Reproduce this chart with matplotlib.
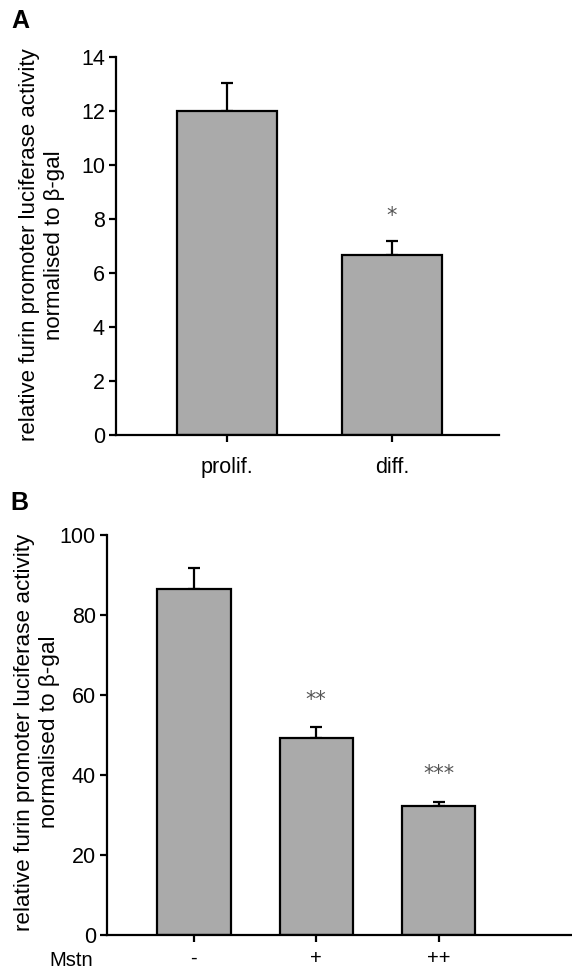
import matplotlib
matplotlib.use("Agg")
import matplotlib.pyplot as plt

plt.rcParams['font.family'] = ['Liberation Sans', 'DejaVu Sans']

# Panel A data
a_categories = ["prolif.", "diff."]
a_values = [12.0, 6.67]
a_errors = [1.05, 0.5]
a_sig = ["", "*"]
a_sig_y = [None, 8.1]
a_yticks = [0, 2, 4, 6, 8, 10, 12, 14]

# Panel B data
b_categories = ["-", "+", "++"]
b_values = [86.5, 49.3, 32.3]
b_errors = [5.3, 2.7, 1.0]
b_sig = ["", "**", "***"]
b_sig_y = [None, 58.7, 40.2]
b_yticks = [0, 20, 40, 60, 80, 100]

ylabel = "relative furin promoter luciferase activity\nnormalised to \u03b2-gal"

fig = plt.figure(figsize=(5.72, 9.72), dpi=100)

bar_color = "#aaaaaa"
lw = 1.6
fs_y = 15.5
fs_x = 15.5


def style(ax, xpad, xfs):
    for s in ["top", "right"]:
        ax.spines[s].set_visible(False)
    for s in ["left", "bottom"]:
        ax.spines[s].set_linewidth(lw)
    ax.tick_params(axis="y", length=5, width=lw, labelsize=fs_y, pad=3)
    ax.tick_params(axis="x", length=5, width=lw, labelsize=xfs, pad=xpad)


def px(x, y):
    return x / 572, 1 - y / 972


# Panel A
axA = fig.add_axes([116 / 572, 1 - 435 / 972, 383 / 572, 378 / 972])
xa = list(range(len(a_categories)))
axA.bar(xa, a_values, width=0.606, color=bar_color, edgecolor="black",
        linewidth=lw, zorder=2)
axA.errorbar(xa, a_values, yerr=[[0] * len(a_values), a_errors], fmt="none",
             ecolor="black", elinewidth=lw, capsize=4, capthick=lw, zorder=1)
for x, s, y in zip(xa, a_sig, a_sig_y):
    if s:
        axA.text(x, y, s, ha="center", va="center", fontsize=15, color="#555555",
                 family="DejaVu Sans")
axA.set_xlim(-0.673, 1.648)
axA.set_ylim(0, 14)
axA.set_yticks(a_yticks)
axA.set_xticks(xa)
axA.set_xticklabels(a_categories)
style(axA, 11, fs_x)
fig.text(*px(42, 245), ylabel, rotation=90, ha="center", va="center",
         fontsize=16, linespacing=1.2, multialignment="center")
fig.text(*px(11, 21), "A", fontsize=18, fontweight="bold",
         ha="left", va="center")

# Panel B
axB = fig.add_axes([107 / 572, 1 - 935 / 972, 465 / 572, 400 / 972])
xb = list(range(len(b_categories)))
axB.bar(xb, b_values, width=0.6, color=bar_color, edgecolor="black",
        linewidth=lw, zorder=2)
axB.errorbar(xb, b_values, yerr=[[0] * len(b_values), b_errors], fmt="none",
             ecolor="black", elinewidth=lw, capsize=4, capthick=lw, zorder=1)
for x, s, y in zip(xb, b_sig, b_sig_y):
    if s:
        axB.text(x, y, s, ha="center", va="center", fontsize=15, color="#555555",
                 family="DejaVu Sans")
axB.set_xlim(-0.71, 3.09)
axB.set_ylim(0, 100)
axB.set_yticks(b_yticks)
axB.set_xticks(xb)
axB.set_xticklabels(b_categories)
style(axB, 5, 14.5)
fig.text(*px(37, 732), ylabel, rotation=90, ha="center", va="center",
         fontsize=16.2, linespacing=1.2, multialignment="center")
fig.text(*px(71, 960), "Mstn", fontsize=14.5, ha="center", va="center")
fig.text(*px(10, 503), "B", fontsize=18, fontweight="bold",
         ha="left", va="center")

fig.savefig("out.png", dpi=100)
